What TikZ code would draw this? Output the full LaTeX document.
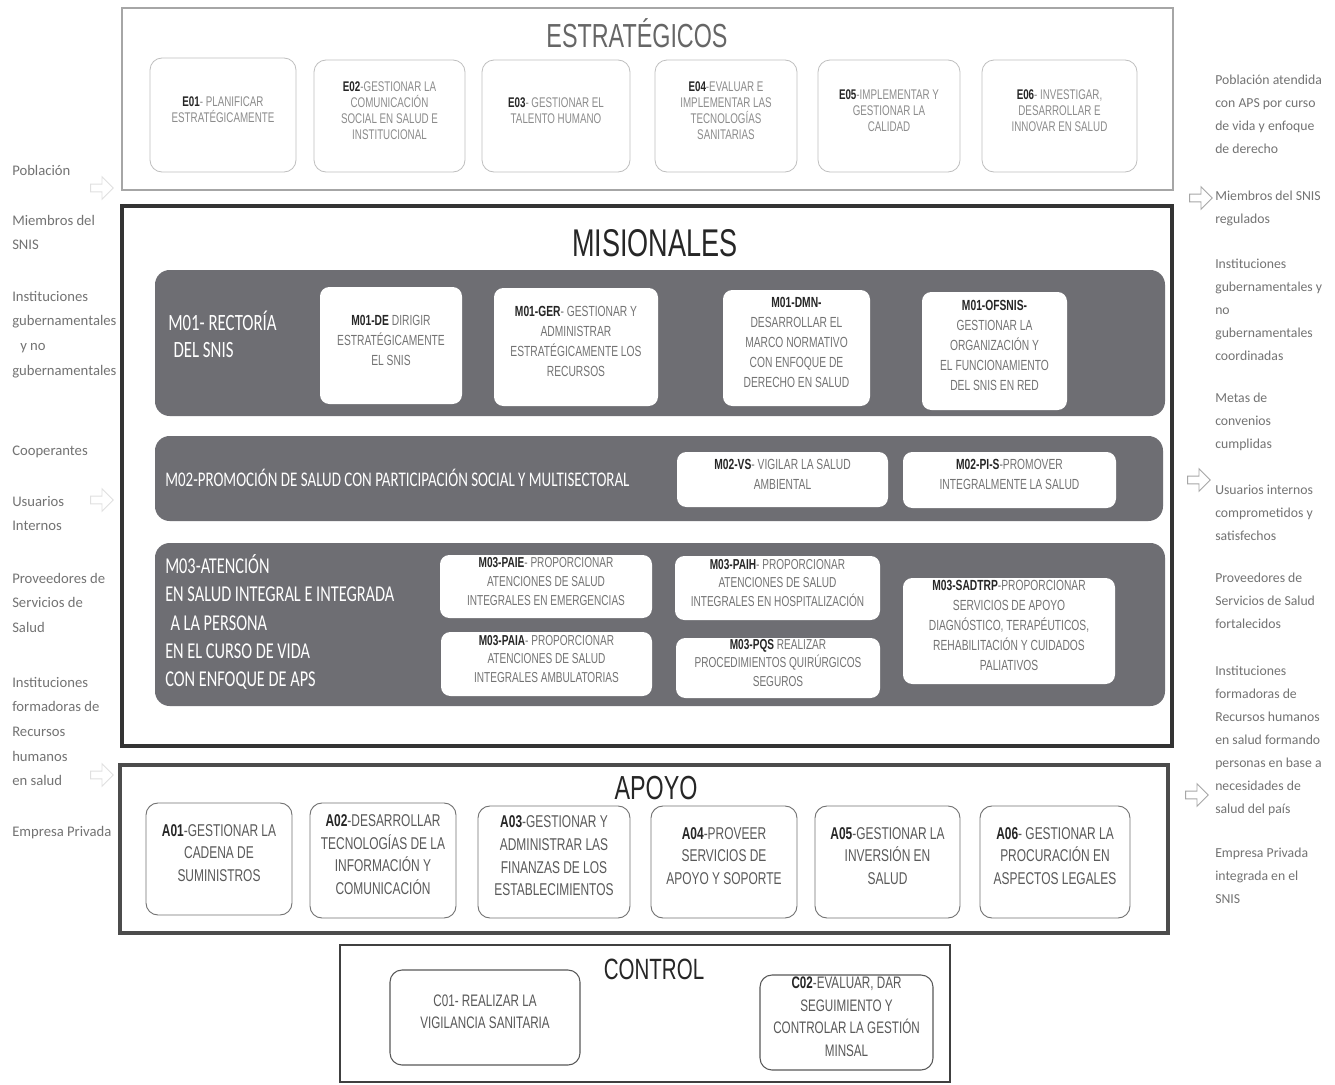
\documentclass[tikz,border=0pt]{standalone}
\usepackage{fontspec}
\setmainfont{Liberation Sans}
\newfontfamily\narrow[FakeStretch=0.70]{Liberation Sans}
\newfontfamily\cond[FakeStretch=0.72]{Carlito}
\newfontfamily\side{Carlito}
\usetikzlibrary{fit,shapes.arrows}
\definecolor{band}{HTML}{6E6E73}
\newcommand\pre[1]{\textcolor{black!85}{\bfseries #1}}
\begin{document}
\begin{tikzpicture}[x=0.75pt,y=-0.75pt,
  outerE/.style={draw=black!35, line width=2pt, inner sep=0pt},
  outerM/.style={draw=black!80, line width=2.6pt, inner sep=0pt},
  outerA/.style={draw=black!70, line width=2.4pt, inner sep=0pt},
  outerC/.style={draw=black!75, line width=2.2pt, inner sep=0pt},
  bandbox/.style={fill=band, draw=none, rounded corners=11pt, inner sep=0pt},
  ebox/.style={draw=black!25, line width=0.6pt, rounded corners=9pt, inner sep=0pt, align=center, text=black!45, font=\narrow\fontsize{10.5}{12}\selectfont},
  mbox/.style={fill=white, draw=none, rounded corners=7pt, inner sep=0pt, align=center, text=black!55, font=\narrow\fontsize{11}{15}\selectfont},
  mboxs/.style={mbox, font=\narrow\fontsize{10.8}{14.2}\selectfont},
  abox/.style={draw=black!55, line width=0.7pt, rounded corners=9pt, inner sep=0pt, align=center, text=black!65, font=\narrow\fontsize{12.8}{17}\selectfont},
  cbox/.style={draw=black!65, line width=0.8pt, rounded corners=9pt, inner sep=0pt, align=center, text=black!65, font=\narrow\fontsize{12.5}{17}\selectfont},
  titlebase/.style={inner sep=0pt},
  bandlabel/.style={text=white, anchor=north west, align=left, inner sep=0pt},
  sideL/.style={anchor=north west, align=left, text=black!55, font=\side\fontsize{11}{18.4}\selectfont, inner sep=0pt},
  sideR/.style={anchor=north west, align=left, text=black!55, font=\side\fontsize{10.3}{17.2}\selectfont, inner sep=0pt},
  harrow/.style={single arrow, draw=black!35, fill=white, line width=0.6pt, minimum width=17pt, minimum height=17pt, single arrow head extend=2.5pt, inner sep=1pt},
  harrowL/.style={harrow, draw=black!12}
]
\useasboundingbox[fill=white] (0,0) rectangle (1335,1085);

% ---------- ESTRATEGICOS ----------
\node[outerE, fit={(122,8) (1173,190)}] (estr) {};
\node[titlebase, text=black!60, font=\narrow\fontsize{25}{30}\selectfont] (estrT) at (637,33) {ESTRATÉGICOS};
\node[ebox, fit={(150,58) (296,172)}] (e01) {\pre{E01}- PLANIFICAR\\ESTRATÉGICAMENTE};
\node[ebox, fit={(314,60) (465,172)}] (e02) {\pre{E02}-GESTIONAR LA\\COMUNICACIÓN\\SOCIAL EN SALUD E\\INSTITUCIONAL};
\node[ebox, fit={(482,60) (630,172)}] (e03) {\pre{E03}- GESTIONAR EL\\TALENTO HUMANO};
\node[ebox, fit={(655,60) (797,172)}] (e04) {\pre{E04}-EVALUAR E\\IMPLEMENTAR LAS\\TECNOLOGÍAS\\SANITARIAS};
\node[ebox, fit={(818,60) (960,172)}] (e05) {\pre{E05}-IMPLEMENTAR Y\\GESTIONAR LA\\CALIDAD};
\node[ebox, fit={(982,60) (1137,172)}] (e06) {\pre{E06}- INVESTIGAR,\\DESARROLLAR E\\INNOVAR EN SALUD};

% ---------- MISIONALES ----------
\node[outerM, fit={(122,206) (1172,746)}] (mis) {};
\node[titlebase, text=black!85, font=\narrow\fontsize{29}{34}\selectfont] (misT) at (655,243) {MISIONALES};

\node[bandbox, fit={(155,270) (1165,416)}] (m01band) {};
\node[bandlabel, font=\cond\fontsize{17.5}{20.3}\selectfont] (m01lab) at (168,311) {M01- RECTORÍA\\\hspace*{4pt}DEL SNIS};
\node[mbox, fit={(320,287) (462,404)}] (m01de) {\pre{M01-DE} DIRIGIR\\ESTRATÉGICAMENTE\\EL SNIS};
\node[mbox, fit={(494,288) (658,406)}] (m01ger) {\pre{M01-GER}- GESTIONAR Y\\ADMINISTRAR\\ESTRATÉGICAMENTE LOS\\RECURSOS};
\node[mbox, fit={(723,290) (870,406)}] (m01dmn) {\pre{M01-DMN-}\\DESARROLLAR EL\\MARCO NORMATIVO\\CON ENFOQUE DE\\DERECHO EN SALUD};
\node[mbox, fit={(922,292) (1067,410)}] (m01ofs) {\pre{M01-OFSNIS-}\\GESTIONAR LA\\ORGANIZACIÓN Y\\EL FUNCIONAMIENTO\\DEL SNIS EN RED};

\node[bandbox, fit={(155,436) (1163,521)}] (m02band) {};
\node[bandlabel, anchor=west, font=\cond\fontsize{15.6}{18}\selectfont] (m02lab) at (165,478) {M02-PROMOCIÓN DE SALUD CON PARTICIPACIÓN SOCIAL Y MULTISECTORAL};
\node[mbox, fit={(677,452) (888,507)}] (m02vs) {\pre{M02-VS}- VIGILAR LA SALUD\\AMBIENTAL};
\node[mbox, fit={(903,452) (1116,508)}] (m02pis) {\pre{M02-PI-S}-PROMOVER\\INTEGRALMENTE LA SALUD};

\node[bandbox, fit={(155,543) (1165,706)}] (m03band) {};
\node[bandlabel, font=\cond\fontsize{17}{21.3}\selectfont] (m03lab) at (165,554) {M03-ATENCIÓN\\EN SALUD INTEGRAL E INTEGRADA\\\hspace*{4pt}A LA PERSONA\\EN EL CURSO DE VIDA\\CON ENFOQUE DE APS};
\node[mboxs, fit={(440,555) (652,618)}] (m03paie) {\pre{M03-PAIE}- PROPORCIONAR\\ATENCIONES DE SALUD\\INTEGRALES EN EMERGENCIAS};
\node[mboxs, fit={(675,556) (880,620)}] (m03paih) {\pre{M03-PAIH}- PROPORCIONAR\\ATENCIONES DE SALUD\\INTEGRALES EN HOSPITALIZACIÓN};
\node[mboxs, fit={(441,632) (652,696)}] (m03paia) {\pre{M03-PAIA}- PROPORCIONAR\\ATENCIONES DE SALUD\\INTEGRALES AMBULATORIAS};
\node[mboxs, fit={(676,638) (880,698)}] (m03pqs) {\pre{M03-PQS} REALIZAR\\PROCEDIMIENTOS QUIRÚRGICOS\\SEGUROS};
\node[mbox, fit={(903,578) (1115,684)}] (m03sad) {\pre{M03-SADTRP}-PROPORCIONAR\\SERVICIOS DE APOYO\\DIAGNÓSTICO, TERAPÉUTICOS,\\REHABILITACIÓN Y CUIDADOS\\PALIATIVOS};

% ---------- APOYO ----------
\node[outerA, fit={(120,765) (1168,933)}] (apo) {};
\node[titlebase, text=black!85, font=\narrow\fontsize{25}{30}\selectfont] (apoT) at (656,788) {APOYO};
\node[abox, fit={(146,803) (292,915)}] (a01) {\pre{A01}-GESTIONAR LA\\CADENA DE\\SUMINISTROS};
\node[abox, fit={(310,803) (456,918)}] (a02) {\pre{A02}-DESARROLLAR\\TECNOLOGÍAS DE LA\\INFORMACIÓN Y\\COMUNICACIÓN};
\node[abox, fit={(478,806) (630,918)}] (a03) {\pre{A03}-GESTIONAR Y\\ADMINISTRAR LAS\\FINANZAS DE LOS\\ESTABLECIMIENTOS};
\node[abox, fit={(651,806) (797,918)}] (a04) {\pre{A04}-PROVEER\\SERVICIOS DE\\APOYO Y SOPORTE};
\node[abox, fit={(815,806) (960,918)}] (a05) {\pre{A05}-GESTIONAR LA\\INVERSIÓN EN\\SALUD};
\node[abox, fit={(980,806) (1130,918)}] (a06) {\pre{A06}- GESTIONAR LA\\PROCURACIÓN EN\\ASPECTOS LEGALES};

% ---------- CONTROL ----------
\node[outerC, fit={(340,945) (950,1082)}] (con) {};
\node[titlebase, text=black!85, font=\narrow\fontsize{22}{26}\selectfont] (conT) at (654,969) {CONTROL};
\node[cbox, fit={(390,970) (580,1065)}] (c01) {C01- REALIZAR LA\\VIGILANCIA SANITARIA};
\node[cbox, fit={(760,975) (933,1070)}] (c02) {\pre{C02}-EVALUAR, DAR\\SEGUIMIENTO Y\\CONTROLAR LA GESTIÓN\\MINSAL};

% ---------- LEFT COLUMN ----------
\node[sideL] (l1) at (12,165) {Población};
\node[sideL] (l2) at (12,215) {Miembros del\\SNIS};
\node[sideL] (l3) at (12,291) {Instituciones\\gubernamentales\\\hspace*{6pt}y no\\gubernamentales};
\node[sideL] (l4) at (12,446) {Cooperantes};
\node[sideL] (l5) at (12,496) {Usuarios\\Internos};
\node[sideL] (l6) at (12,573) {Proveedores de\\Servicios de\\Salud};
\node[sideL] (l7) at (12,677) {Instituciones\\formadoras de\\Recursos\\humanos\\en salud};
\node[sideL] (l8) at (12,826) {Empresa Privada};

\node[harrowL] (al1) at (100,188) {};
\node[harrowL] (al2) at (100,500) {};
\node[harrowL] (al3) at (100,775) {};

% ---------- RIGHT COLUMN ----------
\node[sideR] (r1) at (1215,75) {Población atendida\\con APS por curso\\de vida y enfoque\\de derecho};
\node[sideR] (r2) at (1215,191) {Miembros del SNIS\\regulados};
\node[sideR] (r3) at (1215,259) {Instituciones\\gubernamentales y\\no\\gubernamentales\\coordinadas};
\node[sideR] (r4) at (1215,393) {Metas de\\convenios\\cumplidas};
\node[sideR] (r5) at (1215,485) {Usuarios internos\\comprometidos y\\satisfechos};
\node[sideR] (r6) at (1215,573) {Proveedores de\\Servicios de Salud\\fortalecidos};
\node[sideR] (r7) at (1215,666) {Instituciones\\formadoras de\\Recursos humanos\\en salud formando\\personas en base a\\necesidades de\\salud del país};
\node[sideR] (r8) at (1215,848) {Empresa Privada\\integrada en el\\SNIS};

\node[harrow] (ar1) at (1199,198) {};
\node[harrow] (ar2) at (1197,480) {};
\node[harrow] (ar3) at (1195,795) {};
\end{tikzpicture}
\end{document}
